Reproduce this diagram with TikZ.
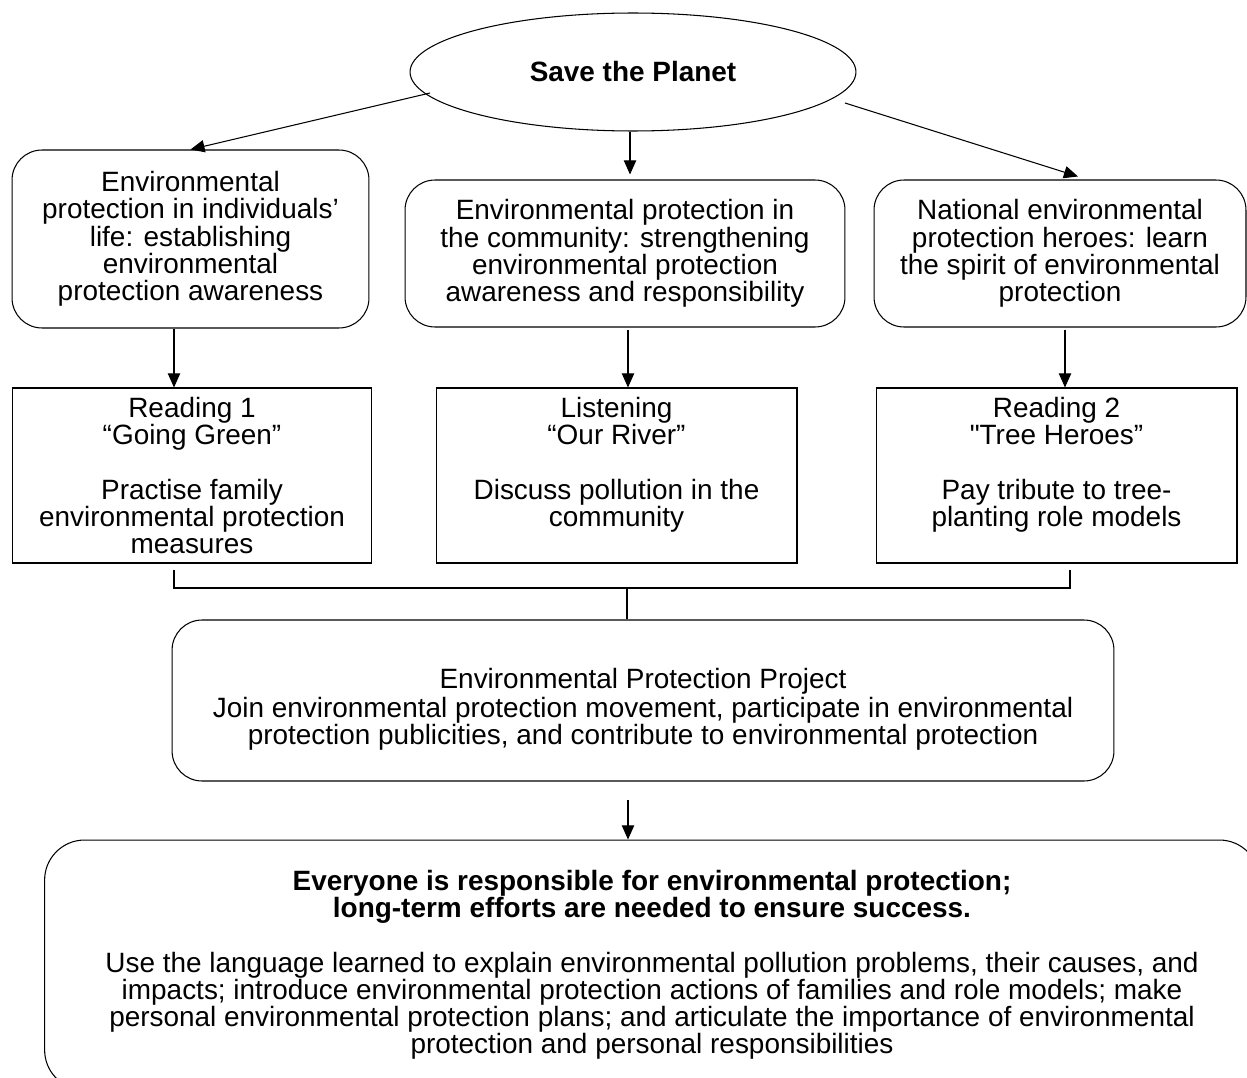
\documentclass[tikz,border=0pt]{standalone}
\usepackage{fontspec}
\setmainfont{Liberation Sans}
\newfontfamily\plainquote{Liberation Sans}[Ligatures=TeXOff]
\usetikzlibrary{shapes.geometric,arrows.meta}
\begin{document}
\begin{tikzpicture}[x=0.02cm,y=-0.02cm,
  txt/.style={font=\fontsize{15.9}{15.5}\selectfont, align=center, inner sep=0pt},
  rbox/.style={txt, draw, line width=0.6pt, rounded corners=0.6cm},
  sbox/.style={txt, draw, line width=0.6pt},
  arr/.style={line width=0.6pt, -{Triangle[length=8pt,width=7pt]}},
  ln/.style={line width=0.6pt}
]
\useasboundingbox (0,0) rectangle (1247,1078);
\begin{scope}
\clip (0,0) rectangle (1247,1078);

\node[txt, draw, line width=0.6pt, ellipse, minimum width=8.92cm, minimum height=2.36cm] (ell) at (633,72) {\textbf{Save the Planet}};

\node[rbox, minimum width=7.14cm, minimum height=3.56cm] (t1) at (190.5,239)
  {Environmental\\protection in individuals’\\life: establishing\\environmental\\protection awareness};
\node[rbox, minimum width=8.8cm, minimum height=2.94cm] (t2) at (625,253.5)
  {Environmental protection in\\the community: strengthening\\environmental protection\\awareness and responsibility};
\node[rbox, minimum width=7.44cm, minimum height=2.94cm] (t3) at (1060,253.5)
  {National environmental\\protection heroes: learn\\the spirit of environmental\\protection};

\node[sbox, minimum width=7.2cm, minimum height=3.5cm] (r1) at (192,475.5)
  {Reading 1\\“Going Green”\\[15.5pt]Practise family\\environmental protection\\measures};
\node[sbox, minimum width=7.22cm, minimum height=3.5cm] (r2) at (616.5,475.5)
  {Listening\\“Our River”\\[15.5pt]Discuss pollution in the\\community\\\mbox{}};
\node[sbox, minimum width=7.22cm, minimum height=3.5cm] (r3) at (1056.5,475.5)
  {Reading 2\\{\plainquote"}Tree Heroes”\\[15.5pt]Pay tribute to tree-\\planting role models\\\mbox{}};

\node[draw, line width=0.6pt, rounded corners=0.6cm, minimum width=18.84cm, minimum height=3.22cm] (proj) at (643,700.5) {};
\node[txt] (projt) at (643,709)
  {Environmental Protection Project\\[1pt]Join environmental protection movement, participate in environmental\\protection publicities, and contribute to environmental protection};

\node[rbox, rounded corners=0.8cm, minimum width=24.3cm, minimum height=5.0cm] (fin) at (652,965)
  {\textbf{Everyone is responsible for environmental protection;}\\\textbf{long-term efforts are needed to ensure success.}\\[15.5pt]Use the language learned to explain environmental pollution problems, their causes, and\\impacts; introduce environmental protection actions of families and role models; make\\personal environmental protection plans; and articulate the importance of environmental\\protection and personal responsibilities};

% connectors from the title
\coordinate (e1) at (430,93);
\coordinate (e3) at (845,103);
\draw[arr] (e1) -- (t1.north);
\draw[arr] ([xshift=-0.06cm]ell.south) -- ([xshift=-0.06cm,yshift=0.1cm]ell.south |- t2.north);
\draw[arr] (e3) -- ([xshift=0.36cm,yshift=0.06cm]t3.north);

% top row to second row
\draw[arr] ([xshift=-0.33cm]t1.south) -- ([xshift=-0.33cm]t1.south |- r1.north);
\draw[arr] ([xshift=0.06cm,yshift=-0.04cm]t2.south) -- ([xshift=0.06cm]t2.south |- r2.north);
\draw[arr] ([xshift=0.1cm,yshift=-0.04cm]t3.south) -- ([xshift=0.1cm]t3.south |- r3.north);

% bracket to the project
\coordinate (b1) at (174,570);
\coordinate (b3) at (1070,570);
\coordinate (bj) at (627,588);
\draw[ln] (b1) |- (bj) -| (b3);
\draw[ln] (bj) -- (bj |- proj.north);

% project to conclusion
\coordinate (pa) at (628,800);
\draw[arr] (pa) -- (pa |- fin.north);
\end{scope}
\end{tikzpicture}
\end{document}
